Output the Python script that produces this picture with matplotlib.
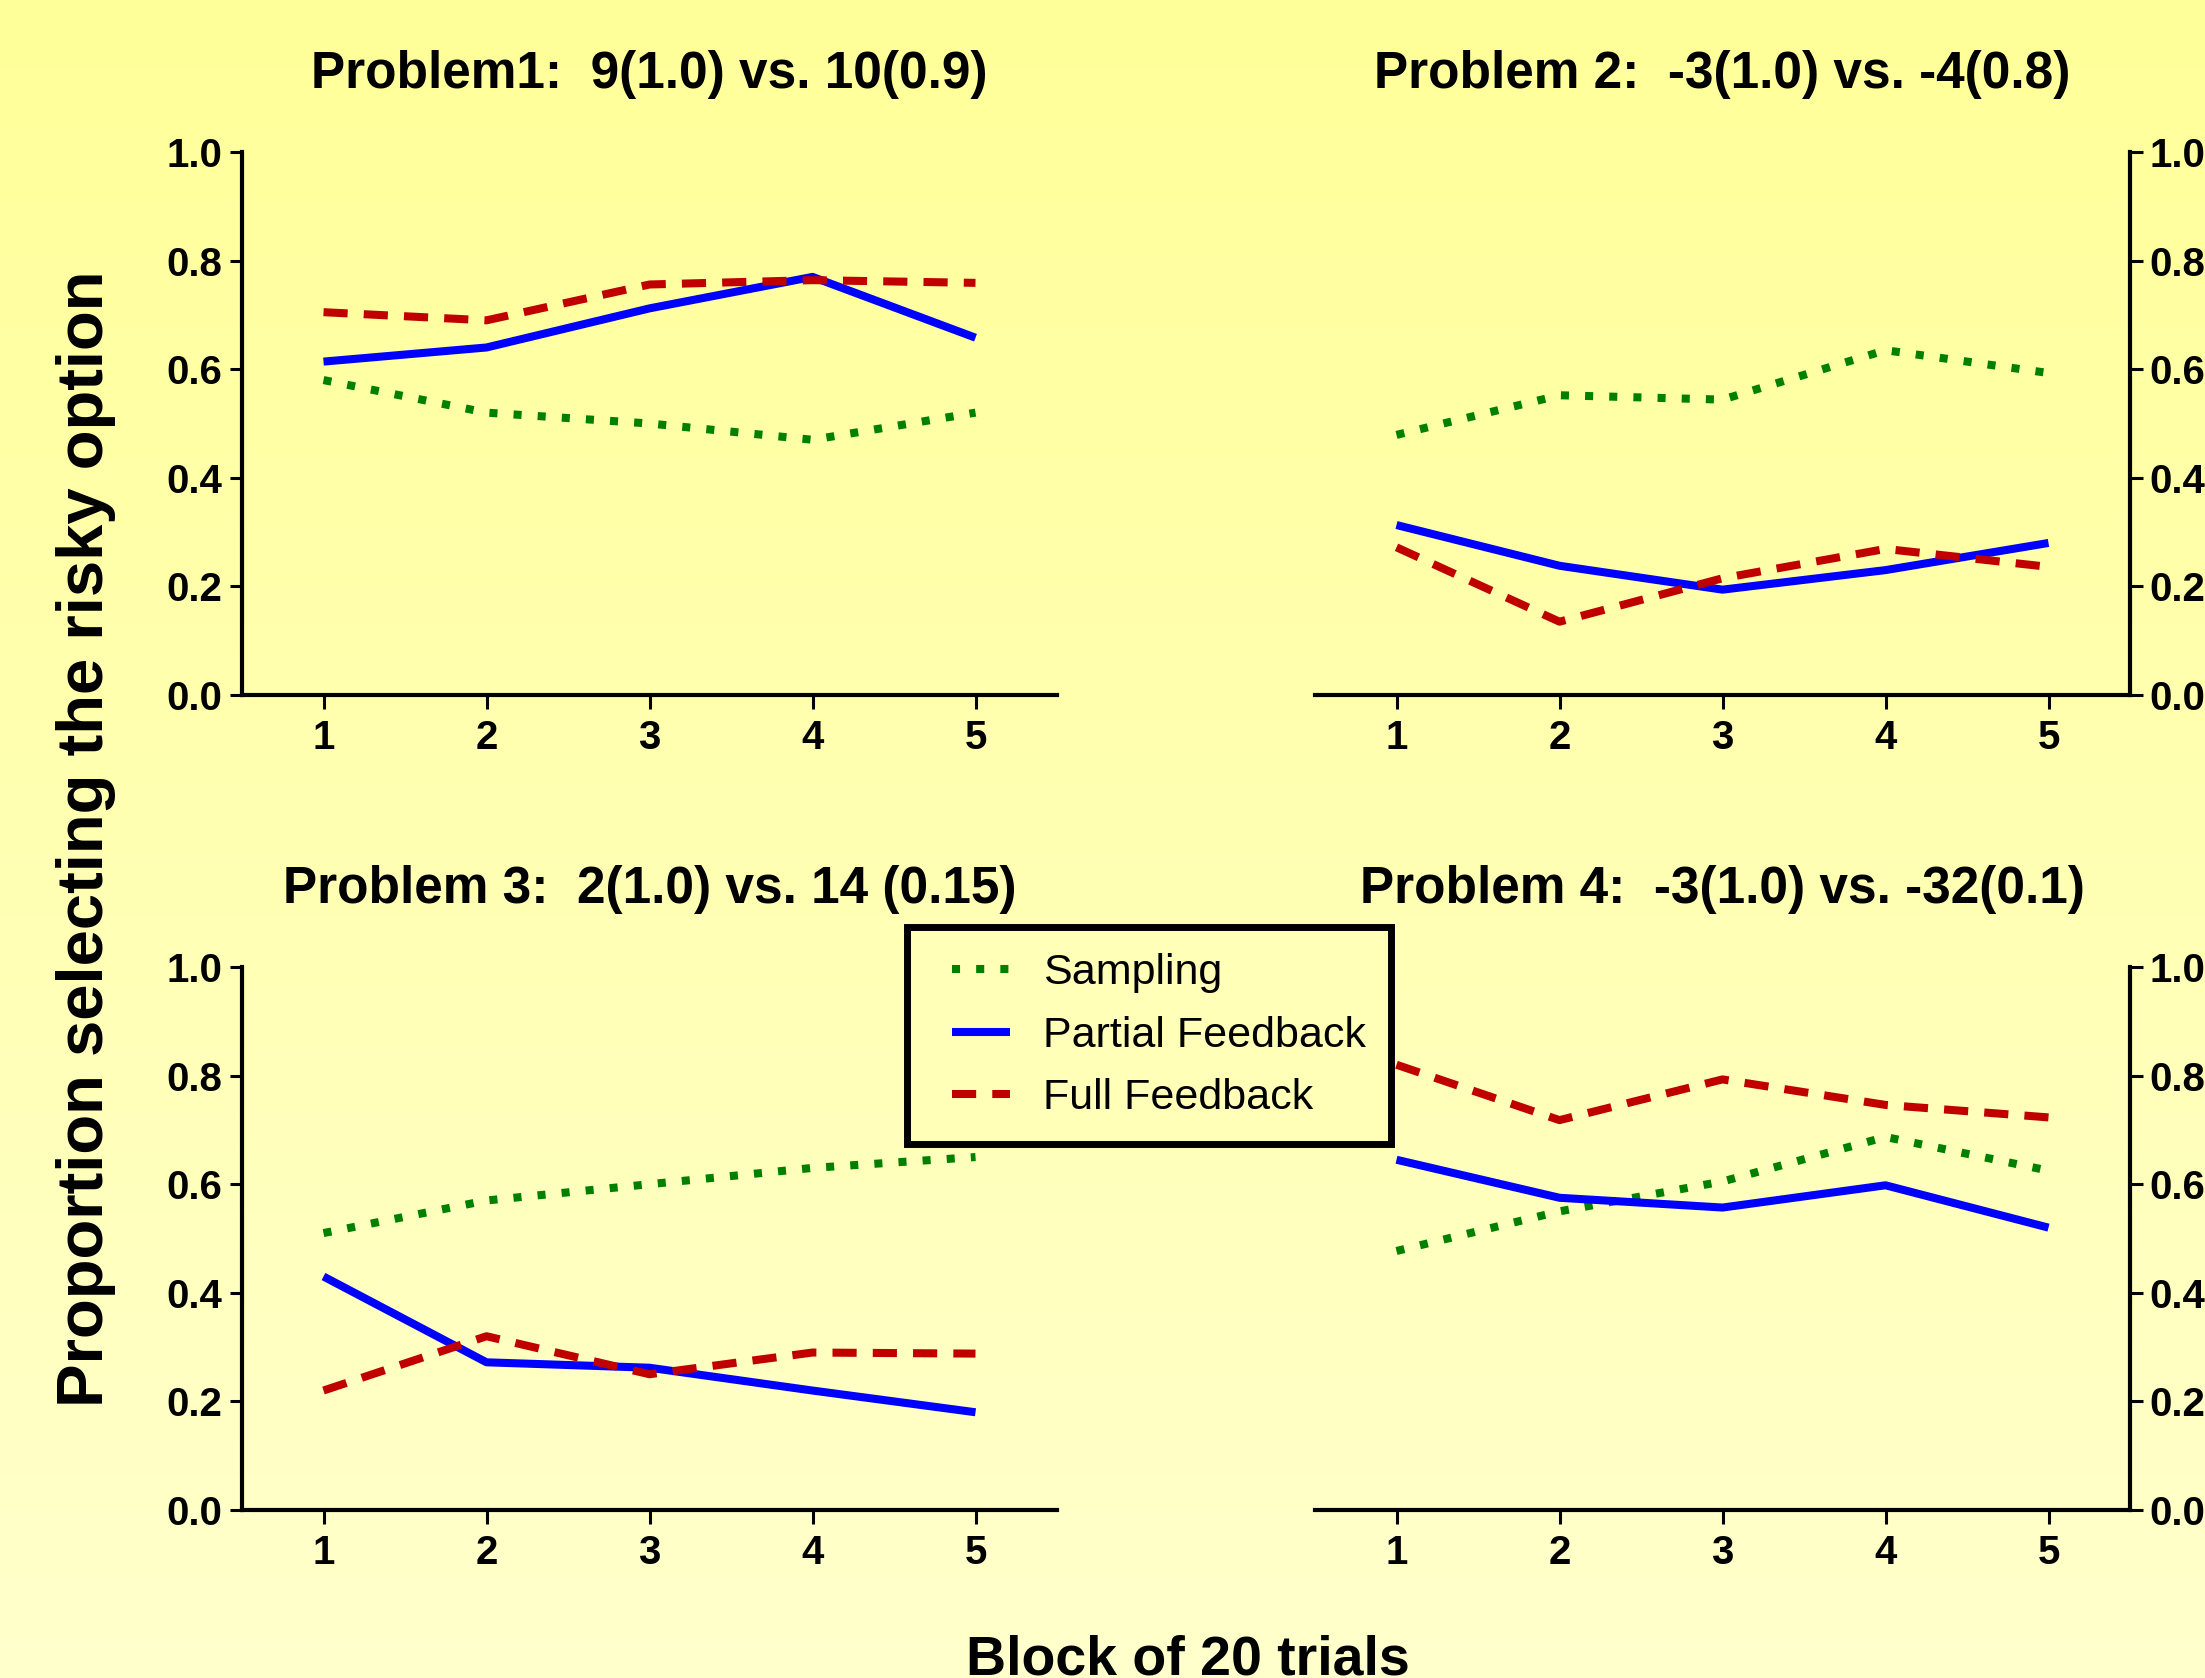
import numpy as np
import matplotlib
matplotlib.use("Agg")
import matplotlib.pyplot as plt
from matplotlib.lines import Line2D
from matplotlib.legend_handler import HandlerLine2D

plt.rcParams['font.family'] = ['Liberation Sans', 'DejaVu Sans']

blocks = [1, 2, 3, 4, 5]
titles = ["Problem1:  9(1.0) vs. 10(0.9)",
          "Problem 2:  -3(1.0) vs. -4(0.8)",
          "Problem 3:  2(1.0) vs. 14 (0.15)",
          "Problem 4:  -3(1.0) vs. -32(0.1)"]
series_names = ["Sampling", "Partial Feedback", "Full Feedback"]

p1_sampling = [0.58, 0.52, 0.50, 0.47, 0.52]
p1_partial = [0.614, 0.64, 0.712, 0.77, 0.658]
p1_full = [0.705, 0.69, 0.756, 0.764, 0.759]

p2_sampling = [0.479, 0.552, 0.544, 0.635, 0.593]
p2_partial = [0.313, 0.238, 0.194, 0.23, 0.28]
p2_full = [0.272, 0.135, 0.215, 0.269, 0.236]

p3_sampling = [0.51, 0.57, 0.60, 0.63, 0.65]
p3_partial = [0.43, 0.272, 0.262, 0.22, 0.18]
p3_full = [0.22, 0.32, 0.25, 0.29, 0.288]

p4_sampling = [0.477, 0.55, 0.605, 0.687, 0.625]
p4_partial = [0.645, 0.575, 0.557, 0.598, 0.52]
p4_full = [0.82, 0.718, 0.793, 0.746, 0.723]

yticks = [0.0, 0.2, 0.4, 0.6, 0.8, 1.0]
ytick_labels = ["0.0", "0.2", "0.4", "0.6", "0.8", "1.0"]

problems = [(p1_sampling, p1_partial, p1_full),
            (p2_sampling, p2_partial, p2_full),
            (p3_sampling, p3_partial, p3_full),
            (p4_sampling, p4_partial, p4_full)]

W, H = 2205, 1678
fig = plt.figure(figsize=(W / 100, H / 100), dpi=100)

# gradient background
bg = fig.add_axes([0, 0, 1, 1], zorder=-10)
grad = np.linspace(0, 1, 256).reshape(-1, 1)
top = np.array([255, 255, 153]) / 255
bot = np.array([255, 255, 204]) / 255
img = top[None, None, :] * (1 - grad[:, :, None]) + bot[None, None, :] * grad[:, :, None]
bg.imshow(img, aspect='auto', extent=[0, 1, 0, 1])
bg.set_axis_off()

colors = ['#008000', '#0000FF', '#C00000']
styles = [(0, (1.0, 2.0)), '-', (0, (3.0, 2.0))]
lw = 5.8

pos = {0: (242, 152), 1: (1315, 152), 2: (242, 967), 3: (1315, 967)}
aw, ah = 815, 543

for i, (data, title) in enumerate(zip(problems, titles)):
    x0, y0 = pos[i]
    ax = fig.add_axes([x0 / W, 1 - (y0 + ah) / H, aw / W, ah / H])
    ax.set_facecolor('none')
    for vals, c, ls in zip(data, colors, styles):
        ax.plot(blocks, vals, color=c, linestyle=ls, linewidth=lw,
                dash_capstyle='butt', solid_capstyle='butt', clip_on=False)
    ax.set_xlim(0.5, 5.5)
    ax.set_ylim(0, 1.0)
    ax.set_xticks(blocks)
    ax.set_xticklabels([str(b) for b in blocks])
    ax.set_yticks(yticks)
    ax.set_yticklabels(ytick_labels)
    ax.spines['top'].set_visible(False)
    right = i in (1, 3)
    if right:
        ax.spines['left'].set_visible(False)
        ax.yaxis.tick_right()
    else:
        ax.spines['right'].set_visible(False)
    for s in ['left', 'right', 'bottom']:
        ax.spines[s].set_linewidth(3)
    ax.tick_params(axis='both', direction='out', length=9, width=2.2,
                   labelsize=29, pad=5)
    ax.tick_params(axis='x', length=10, pad=7)
    for lab in ax.get_xticklabels() + ax.get_yticklabels():
        lab.set_fontweight('bold')
    ax.set_title(title, fontsize=37, fontweight='bold', pad=46)

handles = [Line2D([0], [0], color=c, linestyle=ls, linewidth=lw,
                  dash_capstyle='butt', solid_capstyle='butt')
           for c, ls in zip(colors, styles)]
hmap = {h: HandlerLine2D(xpad=0.45) for h in handles}
leg = fig.legend(handles, series_names, loc='upper left', handler_map=hmap,
                 bbox_to_anchor=(907 / W, 1 - 927 / H), borderaxespad=0,
                 fontsize=31, frameon=True, fancybox=False,
                 edgecolor='black', facecolor='#FFFFB8', framealpha=1,
                 handlelength=1.8, handletextpad=0.75, labelspacing=0.53,
                 borderpad=0.6)
leg.get_frame().set_linewidth(5)

fig.text(86 / W, 0.50, "Proportion selecting the risky option",
         rotation=90, fontsize=47, fontweight='bold', ha='center', va='center')
fig.text(1188 / W, 0.002, "Block of 20 trials", fontsize=40,
         fontweight='bold', ha='center', va='baseline')

fig.savefig("out.png", dpi=100)
